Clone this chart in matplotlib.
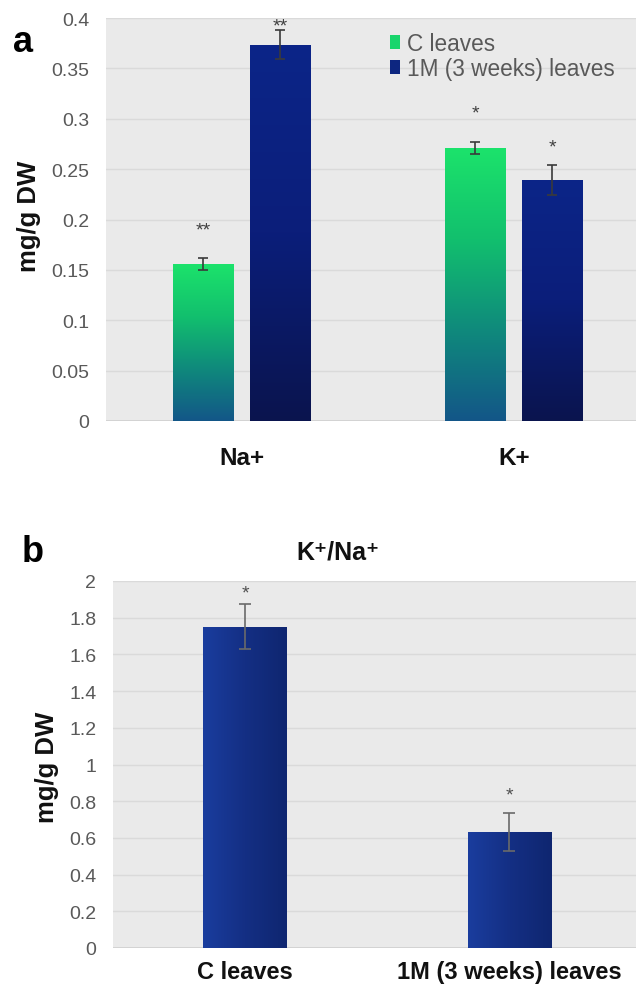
import numpy as np
import matplotlib
matplotlib.use("Agg")
import matplotlib.pyplot as plt
from matplotlib.colors import LinearSegmentedColormap
from matplotlib.patches import Patch

# Panel a: ion content
ions = ["Na+", "K+"]
groups = ["C leaves", "1M (3 weeks) leaves"]
c_vals = [0.156, 0.271]
c_err = [0.006, 0.006]
c_stars = ["**", "*"]
m_vals = [0.3735, 0.2395]
m_err = [0.0145, 0.015]
m_stars = ["**", "*"]
a_ticks = [0, 0.05, 0.1, 0.15, 0.2, 0.25, 0.3, 0.35, 0.4]

# Panel b: K+/Na+ ratio
ratio_vals = [1.75, 0.634]
ratio_err = [0.122, 0.103]
ratio_stars = ["*", "*"]
b_ticks = [0, 0.2, 0.4, 0.6, 0.8, 1, 1.2, 1.4, 1.6, 1.8, 2]

FONT = ["Liberation Sans", "DejaVu Sans"]
plt.rcParams["font.family"] = FONT
GREY_TXT = "#595959"
BG = "#EAEAEA"

green_cmap = LinearSegmentedColormap.from_list(
    "g", ["#135688", "#0F8A7C", "#12C06E", "#1CE36B"])
navy_cmap = LinearSegmentedColormap.from_list("n", ["#0A144E", "#0B1E7A", "#0C2588"])
blue_cmap = LinearSegmentedColormap.from_list("b", ["#1A3D9E", "#142F84", "#0F2670"])


def grad_bar(ax, bar, cmap, horizontal=False):
    x0, y0 = bar.get_x(), bar.get_y()
    w, h = bar.get_width(), bar.get_height()
    if horizontal:
        grad = np.linspace(0, 1, 256).reshape(1, -1)
    else:
        grad = np.linspace(0, 1, 256).reshape(-1, 1)
    im = ax.imshow(grad, extent=[x0, x0 + w, y0, y0 + h], origin="lower",
                   cmap=cmap, aspect="auto", zorder=2, interpolation="bilinear")
    im.set_clip_path(bar)
    bar.set_facecolor("none")


def style_axes(ax, ticks):
    ax.set_facecolor(BG)
    for s in ax.spines.values():
        s.set_visible(False)
    ax.set_yticks(ticks)
    ax.set_yticklabels([f"{t:g}" for t in ticks], color=GREY_TXT, fontsize=14)
    ax.yaxis.grid(True, color="#DADADA", lw=1.0)
    ax.set_axisbelow(True)
    ax.tick_params(axis="both", length=0)
    ax.axhline(0, color="#D0D0D0", lw=1.2, zorder=1)


fig = plt.figure(figsize=(6.36, 9.95), dpi=100)
W, H = 636.0, 995.0

# ---------- panel a ----------
axa = fig.add_axes([106 / W, 1 - 422 / H, (636 - 106) / W, 403 / H])
x = np.arange(len(ions))
bw = 0.224
off = 0.1415
bars_c = axa.bar(x - off, c_vals, bw, zorder=2)
bars_m = axa.bar(x + off, m_vals, bw, zorder=2)
for b in bars_c:
    grad_bar(axa, b, green_cmap)
for b in bars_m:
    grad_bar(axa, b, navy_cmap)
axa.errorbar(x - off, c_vals, yerr=c_err, fmt="none", ecolor="#3A3A3A",
             elinewidth=1.2, capsize=3.5, capthick=1.2, zorder=3)
axa.errorbar(x + off, m_vals, yerr=m_err, fmt="none", ecolor="#3A3A3A",
             elinewidth=1.2, capsize=3.5, capthick=1.2, zorder=3)
star_pad_c = [20, 21]
star_pad_m = [3, 13]
for i in range(len(ions)):
    axa.annotate(c_stars[i], (x[i] - off, c_vals[i] + c_err[i]),
                 xytext=(0, star_pad_c[i]), textcoords="offset points",
                 ha="center", va="center", fontsize=14, color="#404040",
                 annotation_clip=False)
    axa.annotate(m_stars[i], (x[i] + off, m_vals[i] + m_err[i]),
                 xytext=(0, star_pad_m[i]), textcoords="offset points",
                 ha="center", va="center", fontsize=14, color="#404040",
                 annotation_clip=False)
axa.set_xlim(-0.5, 1.45)
axa.set_ylim(0, 0.4)
style_axes(axa, a_ticks)
axa.set_xticks(x)
axa.set_xticklabels(ions, fontsize=17.5, fontweight="bold", color="#111111")
axa.tick_params(axis="x", pad=18)
axa.tick_params(axis="y", pad=12)

handles = [Patch(facecolor="#19D56C", edgecolor="none"),
           Patch(facecolor="#0D2680", edgecolor="none")]
fig.legend(handles, groups, loc="upper left", bbox_to_anchor=(390 / W, 1 - 33 / H),
           frameon=False, fontsize=16.3, labelcolor=GREY_TXT, handlelength=0.45,
           handleheight=0.6, handletextpad=0.3, labelspacing=0.1,
           borderaxespad=0, borderpad=0)

fig.text(29 / W, 1 - 216 / H, "mg/g DW", rotation=90, ha="center", va="center",
         fontsize=18.5, fontweight="bold", color="#111111")
fig.text(13 / W, 1 - 43 / H, "a", ha="left", va="center", fontsize=26,
         fontweight="bold")

# ---------- panel b ----------
axb = fig.add_axes([113 / W, 1 - 949 / H, (636 - 113) / W, 367 / H])
xb = np.arange(len(groups))
bars_r = axb.bar(xb, ratio_vals, 0.315, zorder=2)
for b in bars_r:
    grad_bar(axb, b, blue_cmap, horizontal=True)
axb.errorbar(xb, ratio_vals, yerr=ratio_err, fmt="none", ecolor="#6A6A6A",
             elinewidth=1.2, capsize=4, capthick=1.2, zorder=3)
star_pad_r = [8, 13]
for i in range(len(groups)):
    axb.annotate(ratio_stars[i], (xb[i], ratio_vals[i] + ratio_err[i]),
                 xytext=(0, star_pad_r[i]), textcoords="offset points",
                 ha="center", va="center", fontsize=14, color="#505050",
                 annotation_clip=False)
axb.set_xlim(-0.5, 1.48)
axb.set_ylim(0, 2)
style_axes(axb, b_ticks)
axb.set_xticks(xb)
axb.set_xticklabels(groups, fontsize=17, fontweight="bold", color="#111111")
axb.tick_params(axis="x", pad=9)
axb.tick_params(axis="y", pad=12)

fig.text(338 / W, 1 - 553 / H, "K\u207a/Na\u207a", ha="center", va="center",
         fontsize=18, fontweight="bold", color="#111111")
fig.text(47 / W, 1 - 767 / H, "mg/g DW", rotation=90, ha="center", va="center",
         fontsize=18.5, fontweight="bold", color="#111111")
fig.text(22 / W, 1 - 553 / H, "b", ha="left", va="center", fontsize=26,
         fontweight="bold")

fig.savefig("out.png", dpi=100)
